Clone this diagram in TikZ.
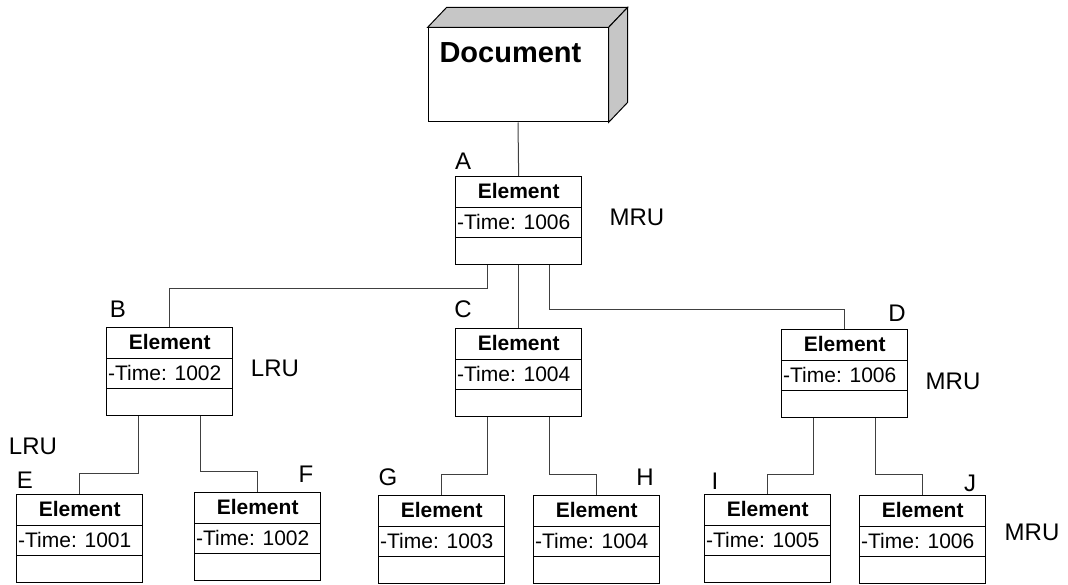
\documentclass[tikz,border=0pt]{standalone}
\usepackage{fontspec}
\setmainfont{Liberation Sans}
\usetikzlibrary{positioning, shapes.multipart}

\tikzset{
  elem/.style={draw, line width=1.3pt, rectangle split, rectangle split parts=3,
    rectangle split part align={center,left,left}, minimum width=126pt,
    inner xsep=1.5pt, inner ysep=0pt, anchor=north west,
    font=\fontsize{21}{21}\selectfont},
  link/.style={draw=black!75, line width=1pt},
  tag/.style={font=\fontsize{24}{24}\selectfont},
}
\newcommand{\elemtext}[1]{\rule[-8.5pt]{0pt}{29.7pt}\textbf{Element}%
  \nodepart{two}\rule[-7.5pt]{0pt}{28.7pt}-Time: #1%
  \nodepart{three}\rule{0pt}{25.7pt}}

\begin{document}
\begin{tikzpicture}[x=1pt, y=-1pt]
\useasboundingbox (0,0) rectangle (1068,585);
    \node[draw, line width=1pt, fill=white, minimum width=180pt, minimum height=94pt] (doc) at (518,75) {};
\filldraw[fill=gray!45, line width=1pt] (doc.north west) -- ++(19,-20) -- ([shift={(19,-20)}]doc.north east) -- (doc.north east) -- cycle;
\filldraw[fill=gray!45, line width=1pt] (doc.north east) -- ++(19,-20) -- ([shift={(19,-20)}]doc.south east) -- (doc.south east) -- cycle;
    \node[font=\fontsize{29}{29}\selectfont\bfseries, anchor=base west] (doctitle) at (436,63) {Document};
    \node[elem] (A) at (455,176) {\elemtext{1006}};
    \node[elem] (B) at (106,327) {\elemtext{1002}};
    \node[elem] (C) at (455,328) {\elemtext{1004}};
    \node[elem] (D) at (781,329) {\elemtext{1006}};
    \node[elem] (E) at (16,494) {\elemtext{1001}};
    \node[elem] (F) at (194,492) {\elemtext{1002}};
    \node[elem] (G) at (378,495) {\elemtext{1003}};
    \node[elem] (H) at (533,495) {\elemtext{1004}};
    \node[elem] (I) at (704,494) {\elemtext{1005}};
    \node[elem] (J) at (859,495) {\elemtext{1006}};
    \node[tag] (labA) at (463,161) {A};
    \node[tag] (labB) at (118,309) {B};
    \node[tag] (labC) at (463,309) {C};
    \node[tag] (labD) at (897,313) {D};
    \node[tag] (labE) at (25,480) {E};
    \node[tag] (labF) at (306,474) {F};
    \node[tag] (labG) at (388,477) {G};
    \node[tag] (labH) at (645,477) {H};
    \node[tag] (labI) at (715,481) {I};
    \node[tag] (labJ) at (970,483) {J};
    \node[tag] (mruA) at (637,217) {MRU};
    \node[tag] (lruB) at (275,368) {LRU};
    \node[tag] (lruE) at (33,446) {LRU};
    \node[tag] (mruD) at (953,381) {MRU};
    \node[tag] (mruJ) at (1032,532) {MRU};
\draw[link] (doc.south) -- (A.north);
\draw[link] ([xshift=-31pt]A.south) -- ++(0,23) -| (B.north);
\draw[link] (A.south) -- (C.north);
\draw[link] ([xshift=31pt]A.south) -- ++(0,44) -| (D.north);
\draw[link] ([xshift=-31pt]B.south) -- ++(0,57) -| (E.north);
\draw[link] ([xshift=31pt]B.south) -- ++(0,55) -| (F.north);
\draw[link] ([xshift=-31pt]C.south) -- ++(0,57) -| (G.north);
\draw[link] ([xshift=31pt]C.south) -- ++(0,57) -| (H.north);
\draw[link] ([xshift=-31pt]D.south) -- ++(0,56) -| (I.north);
\draw[link] ([xshift=31pt]D.south) -- ++(0,56) -| (J.north);
\end{tikzpicture}
\end{document}
